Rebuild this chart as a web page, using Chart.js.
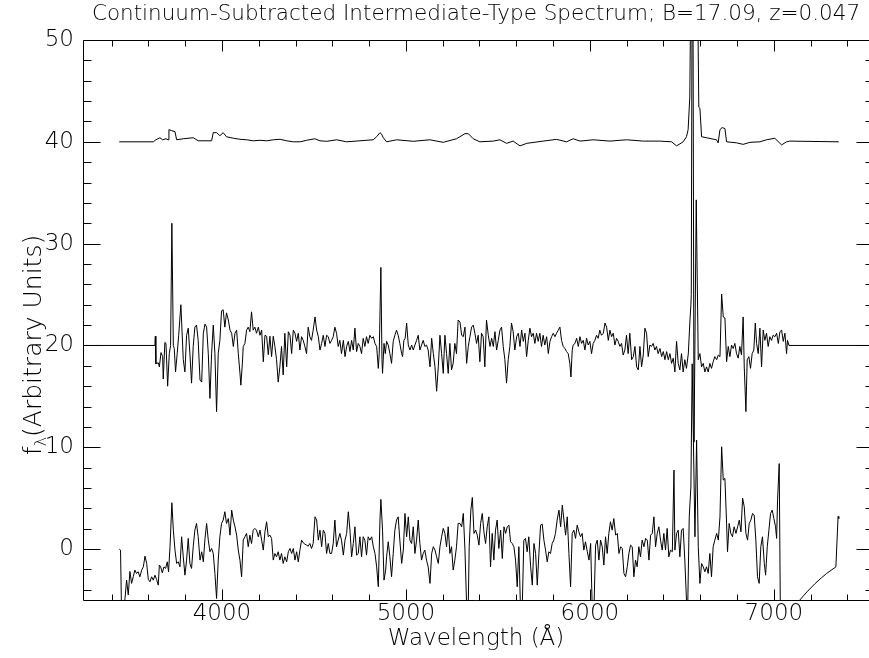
<!DOCTYPE html>
<html>
<head>
<meta charset="utf-8">
<script src="https://cdn.jsdelivr.net/npm/chart.js@4.4.1/dist/chart.umd.min.js"></script>
<style>
  html, body { margin: 0; padding: 0; background: #fff; }
  canvas { display: block; }
</style>
</head>
<body>
<canvas id="c" width="869" height="658"></canvas>
<script>
// ---------------- DATA ----------------
const chartTitle = 'Continuum-Subtracted Intermediate-Type Spectrum; B=17.09, z=0.047';
const xAxisTitle = 'Wavelength (Å)';
const yTitleMain = 'f';
const yTitleSub = 'λ';
const yTitleRest = '(Arbitrary Units)';

const xAxisMin = 3245;
const xAxisMax = 7517;      // visible right edge of the picture
const xFrameEnd = 7545;     // right frame of the plot (just outside the picture)
const xTickValues = [3400, 3600, 3800, 4000, 4200, 4400, 4600, 4800, 5000, 5200, 5400, 5600, 5800, 6000, 6200, 6400, 6600, 6800, 7000, 7200, 7400];
const xTickLabels = [4000, 5000, 6000, 7000];
const yTickValues = [-4, -2, 0, 2, 4, 6, 8, 10, 12, 14, 16, 18, 20, 22, 24, 26, 28, 30, 32, 34, 36, 38, 40, 42, 44, 46, 48, 50];
const yTickLabels = [0, 10, 20, 30, 40, 50];

// top spectrum (offset +40)
const topWave = [3442, 3627, 3641, 3663, 3678, 3696, 3707, 3712, 3726, 3745, 3754, 3790, 3844, 3871, 3944, 3953, 3971, 3989, 4007, 4025, 4062, 4098, 4134, 4171, 4207, 4243, 4280, 4316, 4352, 4388, 4425, 4460, 4505, 4533, 4570, 4624, 4678, 4750, 4822, 4841, 4859, 4868, 4877, 4895, 4950, 5040, 5130, 5203, 5275, 5321, 5339, 5366, 5402, 5475, 5511, 5547, 5583, 5620, 5656, 5746, 5819, 5873, 5909, 5946, 6018, 6109, 6199, 6290, 6380, 6444, 6471, 6507, 6525, 6534, 6543, 6552, 6565, 6578, 6587, 6592, 6598, 6607, 6634, 6688, 6697, 6707, 6719, 6734, 6743, 6797, 6833, 6870, 6924, 6960, 7005, 7042, 7069, 7087, 7353];
const topFlux = [40.0, 40.0, 40.2, 40.4, 40.2, 40.3, 40.2, 41.2, 41.1, 41.0, 40.2, 40.3, 40.4, 40.1, 40.1, 40.9, 40.9, 40.6, 40.9, 40.5, 40.35, 40.25, 40.2, 40.1, 40.15, 40.1, 40.2, 40.25, 40.1, 40.0, 40.0, 40.15, 40.3, 40.1, 40.05, 40.2, 40.0, 40.1, 40.2, 40.5, 40.9, 40.75, 40.4, 40.0, 40.2, 40.05, 40.2, 39.95, 40.3, 40.8, 40.8, 40.3, 40.0, 40.07, 40.2, 39.85, 40.07, 39.6, 39.85, 40.07, 40.24, 40.0, 40.3, 40.07, 40.2, 40.07, 40.2, 40.07, 40.07, 40.0, 39.6, 40.0, 40.5, 41.2, 44.4, 62, 75, 68, 52, 43.4, 43.3, 40.5, 40.4, 40.2, 39.9, 41.2, 41.4, 41.3, 40.0, 39.9, 39.75, 39.95, 40.0, 40.2, 40.35, 39.7, 40.0, 40.07, 40.0];

// middle spectrum (offset +20)
const midWave = [3200, 3636, 3638, 3641, 3654, 3660, 3669, 3678, 3681, 3690, 3696, 3705, 3714, 3721, 3728, 3736, 3741, 3748, 3757, 3765, 3777, 3790, 3799, 3808, 3817, 3826, 3835, 3844, 3853, 3862, 3871, 3881, 3890, 3899, 3908, 3917, 3926, 3935, 3944, 3953, 3962, 3971, 3980, 3989, 3998, 4007, 4016, 4025, 4035, 4044, 4053, 4062, 4071, 4080, 4089, 4098, 4103, 4111, 4116, 4125, 4134, 4143, 4152, 4161, 4170, 4179, 4188, 4198, 4207, 4216, 4225, 4234, 4243, 4252, 4261, 4270, 4279, 4288, 4297, 4306, 4315, 4324, 4333, 4342, 4352, 4361, 4370, 4379, 4388, 4397, 4406, 4415, 4424, 4433, 4442, 4451, 4460, 4469, 4478, 4487, 4496, 4506, 4515, 4524, 4533, 4542, 4551, 4560, 4569, 4578, 4587, 4596, 4605, 4614, 4623, 4632, 4641, 4650, 4660, 4669, 4678, 4687, 4696, 4705, 4714, 4723, 4732, 4741, 4750, 4759, 4768, 4777, 4786, 4795, 4804, 4814, 4823, 4832, 4841, 4850, 4855, 4864, 4870, 4873, 4881, 4888, 4895, 4904, 4913, 4922, 4931, 4940, 4949, 4958, 4967, 4977, 4982, 4989, 4996, 5004, 5013, 5022, 5031, 5040, 5049, 5058, 5067, 5076, 5085, 5094, 5103, 5112, 5121, 5131, 5140, 5149, 5158, 5167, 5176, 5185, 5194, 5203, 5212, 5221, 5230, 5239, 5248, 5257, 5266, 5275, 5284, 5294, 5303, 5312, 5321, 5330, 5339, 5348, 5357, 5366, 5375, 5384, 5393, 5402, 5411, 5420, 5429, 5438, 5448, 5457, 5466, 5475, 5484, 5493, 5502, 5511, 5520, 5529, 5538, 5547, 5556, 5565, 5574, 5583, 5592, 5602, 5611, 5620, 5629, 5638, 5647, 5656, 5665, 5674, 5683, 5692, 5701, 5710, 5719, 5728, 5737, 5746, 5755, 5765, 5774, 5783, 5792, 5801, 5810, 5819, 5828, 5837, 5846, 5855, 5864, 5873, 5882, 5891, 5897, 5904, 5909, 5919, 5928, 5937, 5946, 5955, 5964, 5973, 5982, 5991, 6000, 6009, 6018, 6027, 6036, 6045, 6054, 6063, 6073, 6082, 6091, 6100, 6109, 6118, 6127, 6136, 6145, 6154, 6163, 6172, 6181, 6190, 6199, 6208, 6217, 6227, 6236, 6245, 6254, 6263, 6272, 6281, 6290, 6299, 6308, 6317, 6326, 6335, 6344, 6353, 6362, 6371, 6381, 6390, 6399, 6408, 6417, 6426, 6435, 6444, 6453, 6462, 6471, 6480, 6489, 6498, 6507, 6516, 6525, 6535, 6544, 6549, 6551, 6558, 6566, 6578, 6589, 6598, 6607, 6616, 6625, 6634, 6643, 6652, 6661, 6670, 6679, 6689, 6698, 6707, 6716, 6725, 6734, 6743, 6752, 6761, 6770, 6779, 6788, 6797, 6806, 6815, 6824, 6833, 6839, 6848, 6855, 6864, 6873, 6882, 6891, 6899, 6906, 6915, 6924, 6933, 6942, 6951, 6960, 6969, 6978, 6987, 6996, 7006, 7015, 7024, 7033, 7042, 7051, 7060, 7069, 7074, 7082, 7600];
const midFlux = [20, 20, 20.9, 18.2, 18.3, 17.9, 19.3, 18.9, 16.7, 20.3, 20.2, 16.0, 19.2, 20.0, 32.0, 20.0, 19.7, 17.4, 19.2, 21.0, 24.0, 18.6, 17.4, 21.0, 21.7, 19.2, 16.3, 19.9, 21.8, 22.0, 20.5, 16.6, 16.4, 21.2, 22.1, 21.8, 19.2, 14.8, 19.2, 22.0, 19.2, 13.5, 19.2, 20.5, 23.4, 23.5, 21.8, 23.2, 22.5, 21.5, 21.2, 19.9, 21.2, 21.5, 19.2, 17.3, 16.1, 18.2, 19.9, 20.2, 21.5, 21.8, 21.35, 23.3, 21.5, 21.8, 21.2, 21.8, 21.0, 21.5, 18.4, 21.0, 20.9, 19.1, 20.9, 18.9, 20.9, 19.9, 18.6, 16.4, 17.9, 19.9, 17.1, 21.2, 17.9, 21.35, 21.0, 19.2, 21.5, 21.2, 20.4, 21.2, 19.55, 20.86, 20.5, 19.9, 19.2, 21.8, 20.86, 20.5, 21.5, 22.8, 21.5, 20.86, 19.55, 20.2, 21.0, 19.9, 21.0, 20.86, 20.2, 20.5, 20.86, 21.8, 21.2, 19.9, 20.5, 19.2, 20.5, 18.9, 19.9, 20.4, 19.4, 20.5, 19.55, 21.7, 19.4, 20.2, 19.9, 19.2, 20.7, 19.9, 20.86, 20.2, 21.0, 20.7, 20.86, 20.2, 19.9, 17.75, 19.2, 27.67, 18.6, 17.26, 20.2, 19.2, 20.4, 20.04, 19.2, 18.24, 20.4, 21.0, 21.5, 21.0, 20.2, 19.2, 18.9, 20.5, 20.7, 22.2, 20.04, 19.55, 20.04, 19.55, 20.04, 20.5, 21.0, 19.55, 20.04, 20.5, 19.9, 20.04, 19.55, 17.9, 20.7, 19.2, 17.9, 15.5, 17.9, 21.0, 19.2, 17.26, 21.0, 19.2, 17.26, 20.2, 17.6, 18.24, 20.2, 19.2, 22.5, 22.3, 21.0, 20.86, 21.8, 18.24, 19.9, 20.86, 21.8, 22.0, 21.2, 20.2, 21.0, 18.4, 21.2, 20.86, 17.9, 22.5, 21.0, 19.9, 20.7, 19.9, 21.35, 19.55, 20.5, 21.5, 21.8, 19.9, 18.6, 16.3, 18.6, 19.9, 22.2, 21.35, 19.55, 20.86, 21.2, 19.9, 21.5, 20.4, 21.2, 18.9, 20.5, 21.7, 20.86, 21.2, 20.2, 21.2, 20.4, 21.2, 19.9, 21.0, 20.04, 20.86, 19.2, 20.4, 20.86, 21.2, 20.86, 21.2, 21.5, 21.8, 20.5, 19.9, 19.7, 19.4, 19.2, 18.24, 16.9, 19.55, 20.04, 20.2, 20.7, 19.9, 20.86, 20.2, 20.5, 19.55, 20.7, 20.04, 20.4, 19.2, 20.2, 20.5, 21.0, 20.7, 21.5, 21.0, 21.2, 22.2, 21.8, 20.5, 21.5, 20.86, 21.2, 20.04, 20.7, 20.4, 19.9, 20.2, 19.06, 19.55, 21.0, 19.2, 21.2, 18.6, 18.9, 19.9, 17.9, 17.6, 19.9, 17.9, 19.06, 21.7, 21.2, 18.9, 20.04, 19.9, 20.2, 19.55, 19.9, 19.2, 19.7, 18.9, 19.4, 18.6, 19.4, 18.6, 19.2, 18.24, 18.75, 17.4, 20.4, 18.24, 17.6, 19.2, 17.4, 18.6, 17.75, 19.2, 22.5, 24.0, 25, 72, 10.5, 34.3, 18.6, 19.2, 17.9, 18.24, 17.4, 17.9, 17.4, 18.24, 17.75, 18.4, 18.9, 18.6, 19.06, 18.9, 25.05, 22.8, 22.7, 18.4, 19.9, 18.9, 20.04, 19.7, 20.2, 19.2, 18.75, 19.9, 19.06, 22.8, 17.9, 13.5, 18.6, 18.9, 17.75, 19.2, 19.55, 22.2, 20.2, 19.2, 21.7, 17.9, 21.5, 20.5, 21.2, 19.9, 20.86, 20.5, 21.0, 20.86, 21.2, 20.2, 21.35, 21.5, 20.4, 21.2, 19.2, 20.5, 20.0, 20.0];

// bottom spectrum (no offset)
const lowWave = [3442, 3449, 3456, 3467, 3473, 3482, 3491, 3500, 3509, 3518, 3527, 3536, 3545, 3554, 3564, 3573, 3582, 3591, 3600, 3609, 3618, 3627, 3636, 3645, 3654, 3660, 3667, 3676, 3685, 3694, 3703, 3710, 3718, 3728, 3736, 3745, 3754, 3763, 3772, 3781, 3790, 3799, 3808, 3817, 3826, 3835, 3844, 3853, 3862, 3871, 3881, 3890, 3899, 3908, 3917, 3926, 3935, 3944, 3953, 3962, 3971, 3980, 3989, 3998, 4007, 4016, 4025, 4035, 4044, 4053, 4062, 4071, 4080, 4089, 4098, 4107, 4116, 4125, 4134, 4143, 4152, 4161, 4170, 4179, 4188, 4198, 4207, 4216, 4225, 4234, 4243, 4252, 4261, 4270, 4279, 4288, 4297, 4306, 4315, 4324, 4333, 4342, 4352, 4361, 4370, 4379, 4388, 4397, 4406, 4415, 4424, 4433, 4442, 4451, 4460, 4469, 4478, 4487, 4496, 4506, 4515, 4524, 4533, 4542, 4551, 4560, 4569, 4578, 4587, 4596, 4605, 4614, 4623, 4632, 4641, 4650, 4660, 4669, 4678, 4687, 4696, 4705, 4714, 4723, 4732, 4741, 4750, 4759, 4768, 4777, 4786, 4795, 4804, 4814, 4823, 4832, 4841, 4850, 4859, 4864, 4873, 4881, 4890, 4895, 4904, 4913, 4922, 4931, 4940, 4949, 4958, 4967, 4977, 4986, 4995, 5004, 5013, 5022, 5031, 5040, 5049, 5058, 5067, 5076, 5085, 5094, 5103, 5112, 5121, 5131, 5140, 5149, 5158, 5167, 5176, 5185, 5194, 5203, 5212, 5221, 5230, 5239, 5248, 5257, 5266, 5275, 5284, 5294, 5303, 5312, 5321, 5330, 5339, 5344, 5353, 5361, 5370, 5379, 5388, 5397, 5406, 5415, 5424, 5433, 5442, 5451, 5460, 5469, 5478, 5487, 5496, 5505, 5515, 5524, 5533, 5542, 5551, 5560, 5569, 5578, 5587, 5596, 5605, 5614, 5623, 5632, 5641, 5650, 5659, 5668, 5678, 5687, 5696, 5705, 5714, 5723, 5732, 5741, 5750, 5759, 5768, 5777, 5786, 5795, 5804, 5813, 5822, 5832, 5841, 5850, 5859, 5868, 5877, 5886, 5895, 5904, 5913, 5922, 5931, 5940, 5949, 5958, 5967, 5976, 5986, 5995, 6004, 6013, 6022, 6031, 6040, 6049, 6058, 6067, 6076, 6085, 6094, 6103, 6112, 6121, 6130, 6140, 6149, 6158, 6167, 6176, 6185, 6194, 6203, 6212, 6221, 6230, 6239, 6248, 6257, 6266, 6275, 6284, 6294, 6303, 6312, 6321, 6330, 6339, 6348, 6357, 6366, 6375, 6384, 6393, 6402, 6411, 6420, 6429, 6438, 6448, 6457, 6462, 6471, 6480, 6489, 6498, 6507, 6516, 6525, 6531, 6540, 6549, 6556, 6571, 6580, 6589, 6598, 6607, 6616, 6625, 6634, 6643, 6652, 6661, 6670, 6679, 6689, 6698, 6707, 6716, 6725, 6734, 6743, 6748, 6757, 6766, 6775, 6784, 6794, 6803, 6812, 6821, 6830, 6839, 6848, 6857, 6866, 6875, 6884, 6893, 6902, 6911, 6920, 6929, 6938, 6948, 6955, 6964, 6973, 6982, 6991, 7000, 7009, 7015, 7020, 7029, 7036, 7060, 7100, 7141, 7180, 7223, 7260, 7286, 7337, 7349, 7353];
const lowFlux = [0.0, -0.1, -8, -5.8, -4.9, -3.05, -4.5, -2.2, -3.37, -2.72, -2.06, -2.39, -2.23, -2.72, -2.06, -1.74, -0.69, -1.41, -2.98, -3.21, -2.72, -3.05, -2.56, -2.98, -3.54, -1.57, -1.74, -2.33, -1.74, -1.9, -1.25, -2.23, 0.23, 4.55, 1.86, -0.1, -1.41, -1.25, -1.74, 1.21, -0.76, -2.56, -1.08, 1.05, -1.41, -1.9, 0.23, 1.86, 2.52, 1.21, -1.08, -0.26, -1.25, 1.05, 2.52, 0.88, -0.26, 0.06, -0.43, -2.39, -4.85, -1.08, 1.21, 2.52, 2.85, 3.67, 2.52, 3.0, 1.37, 3.83, 2.85, 2.19, 1.37, -0.1, -1.08, -2.72, 0.88, 1.21, 1.54, 0.23, 1.37, 0.55, 1.86, 2.03, 1.86, 1.21, 1.86, 0.88, -0.1, 1.7, 2.68, 1.21, 1.37, 1.05, -1.08, -0.43, -0.76, -0.26, -1.08, -0.43, -1.41, -0.76, -1.25, -0.26, 0.06, -0.43, 0.06, -1.08, -0.26, -1.25, -0.1, 0.88, 0.62, 0.49, 0.39, 0.29, 0.55, 0.06, 0.55, 3.17, 2.85, 0.88, 1.86, 0.23, 1.86, 1.54, -0.43, 0.55, -0.43, -0.43, 0.55, 2.85, 0.23, 0.88, 1.54, 0.88, -0.59, 0.88, 1.54, 3.67, 1.86, -0.76, 0.55, 2.19, -0.59, -0.43, 1.21, -0.76, 1.21, 0.88, -0.59, 1.21, 0.88, 1.21, 0.23, -0.43, -1.74, -3.7, 2.85, 4.88, 1.86, -3.05, -2.06, -0.76, 0.72, -0.76, -2.72, -0.43, 1.86, 2.85, 3.17, 0.88, -1.41, -0.1, 3.5, 1.21, 3.17, 0.88, 0.55, 2.19, -0.43, 0.88, 2.85, 0.55, -1.08, -0.43, -0.1, -1.08, -1.74, -3.37, -0.43, 0.23, -0.1, -0.76, -1.41, 0.23, 1.21, 2.03, 1.54, 0.23, 2.19, -0.43, 0.23, -2.06, -1.08, 0.23, 2.52, 2.52, 2.19, 3.5, -0.1, -5.5, -5.5, 0.23, 3.83, 5.07, 1.54, 1.86, 1.37, 0.39, 2.52, 3.5, 1.7, 0.55, 2.19, 3.17, -1.74, 1.54, -1.08, 1.86, 2.85, 0.06, 1.86, -0.92, 2.19, 1.54, 2.19, 2.35, 0.72, 0.55, 0.23, -1.08, -3.7, 0.23, -6, -6, 0.88, 1.05, -0.26, 1.21, -1.74, -3.54, 0.55, -0.43, -3.54, -0.43, 2.35, 2.45, 0.88, -0.1, -1.25, -0.26, -0.43, 0.55, 0.88, 1.54, 2.85, 3.83, 2.19, 4.32, 2.85, 1.37, 3.17, -0.43, -3.7, 1.54, 1.86, 1.05, 2.35, 1.7, 1.21, 1.54, -0.1, 0.72, -0.26, -1.08, 0.55, -6, -6, 0.39, 0.88, -1.08, 0.88, 0.23, -1.57, 1.21, -0.43, 1.54, 2.68, 1.86, 3.0, 1.37, 1.54, -0.43, 0.23, 0.06, -2.39, -2.72, -1.74, -0.43, 0.39, 0.23, -2.72, -1.08, -1.74, 0.23, -0.76, 0.88, 0.23, 1.05, 0.88, -1.08, 1.37, 1.54, 3.17, 0.23, 1.54, 2.19, 0.88, -0.1, 1.54, -0.1, 2.03, -0.76, -0.1, -0.26, 7.76, -0.1, 1.54, 1.86, -0.76, 1.86, 2.03, -1.08, -5.0, -6.5, 3.17, 6.12, 18.2, 1.21, 10.7, 0.23, -3.37, -1.41, -1.74, -2.23, -1.74, -2.39, -0.43, -2.72, 0.23, 0.88, 1.54, 0.88, 3.17, 10.05, 6.78, 6.94, 2.52, -0.26, 2.52, 1.54, 1.21, 2.19, 1.54, 2.19, 2.85, 1.7, 5.0, 4.16, 1.54, 0.88, 2.52, 2.85, 3.5, 3.34, 0.88, -2.72, -3.37, 0.23, 1.21, -1.41, -2.56, 0.23, 1.86, 3.5, 3.83, 3.0, 2.19, 1.05, 4.81, 8.4, -8, -7.4, -6.3, -5.0, -4.2, -3.4, -2.8, -2.4, -1.75, 3.2, 3.0];

// ---------------- CHART ----------------
const FONT = "'DejaVu Sans', 'Liberation Sans', sans-serif";
const FW = '200';

function pairs(w, f) { return w.map((v, i) => ({ x: v, y: f[i] })); }

const lineStyle = { borderColor: '#000', borderWidth: 1, pointRadius: 0, tension: 0, borderJoinStyle: 'round', fill: false };

const framePlugin = {
  id: 'frameAndTicks',
  afterDatasetsDraw(chart) {
    const { ctx, chartArea: a, scales } = chart;
    const x = scales.x, y = scales.y;
    ctx.save();
    ctx.strokeStyle = '#000';
    ctx.lineWidth = 1;
    ctx.beginPath();
    const L = Math.round(a.left) + 0.5;
    const R = Math.round(x.getPixelForValue(xFrameEnd)) - 0.5;
    const T = Math.round(a.top) + 0.5, B = Math.round(a.bottom) + 0.5;
    ctx.moveTo(L, T); ctx.lineTo(R, T); ctx.lineTo(R, B); ctx.lineTo(L, B); ctx.closePath();
    x.ticks.forEach(t => {
      const px = Math.round(x.getPixelForValue(t.value)) + 0.5;
      const len = xTickLabels.includes(t.value) ? 11 : 6;
      ctx.moveTo(px, B); ctx.lineTo(px, B - len);
      ctx.moveTo(px, T); ctx.lineTo(px, T + len);
    });
    y.ticks.forEach(t => {
      const py = Math.round(y.getPixelForValue(t.value)) + 0.5;
      const len = yTickLabels.includes(t.value) ? 17 : 8;
      ctx.moveTo(L, py); ctx.lineTo(L + len, py);
      ctx.moveTo(R, py); ctx.lineTo(R - len, py);
    });
    ctx.stroke();
    ctx.restore();
  },
  afterDraw(chart) {
    const { ctx } = chart;
    ctx.save();
    ctx.translate(41, 345);
    ctx.rotate(-Math.PI / 2);
    ctx.fillStyle = '#000';
    ctx.textBaseline = 'alphabetic';
    const big = FW + ' 25px ' + FONT, small = FW + ' 16px ' + FONT;
    const parts = [[yTitleMain, big, 0], [yTitleSub, small, 5], [yTitleRest, big, 0]];
    let total = 0;
    parts.forEach(p => { ctx.font = p[1]; total += ctx.measureText(p[0]).width; });
    let xp = -total / 2;
    parts.forEach(p => { ctx.font = p[1]; ctx.fillText(p[0], xp, p[2]); xp += ctx.measureText(p[0]).width; });
    ctx.restore();
  }
};

new Chart(document.getElementById('c'), {
  type: 'line',
  data: {
    datasets: [
      Object.assign({ label: 'offset 40', data: pairs(topWave, topFlux) }, lineStyle),
      Object.assign({ label: 'offset 20', data: pairs(midWave, midFlux) }, lineStyle),
      Object.assign({ label: 'spectrum', data: pairs(lowWave, lowFlux) }, lineStyle)
    ]
  },
  options: {
    responsive: false,
    animation: false,
    devicePixelRatio: 1,
    layout: { padding: 0 },
    plugins: {
      legend: { display: false },
      tooltip: { enabled: false },
      title: {
        display: true,
        text: chartTitle,
        fullSize: false,
        color: '#000',
        font: { family: FONT, size: 21.5, weight: FW, lineHeight: '22px' },
        padding: { top: 3, bottom: 15 }
      }
    },
    scales: {
      x: {
        type: 'linear',
        position: 'bottom',
        min: xAxisMin,
        max: xAxisMax,
        afterBuildTicks: s => { s.ticks = xTickValues.map(v => ({ value: v })); },
        afterFit: s => { s.height = 58; },
        grid: { display: false, drawTicks: false },
        border: { display: false },
        ticks: {
          autoSkip: false, maxRotation: 0, padding: 0, color: '#000',
          font: { family: FONT, size: 23, weight: FW },
          callback: v => xTickLabels.includes(v) ? String(v) : ''
        },
        title: {
          display: true, text: xAxisTitle, color: '#000',
          font: { family: FONT, size: 23, weight: FW },
          padding: { top: 0, bottom: 5 }
        }
      },
      y: {
        type: 'linear',
        position: 'left',
        min: -5,
        max: 50,
        afterBuildTicks: s => { s.ticks = yTickValues.map(v => ({ value: v })); },
        afterFit: s => { s.width = 83; },
        grid: { display: false, drawTicks: false },
        border: { display: false },
        ticks: {
          autoSkip: false, padding: 9, color: '#000',
          font: { family: FONT, size: 23, weight: FW },
          callback: v => yTickLabels.includes(v) ? String(v) : ''
        }
      }
    }
  },
  plugins: [framePlugin]
});
</script>
</body>
</html>
